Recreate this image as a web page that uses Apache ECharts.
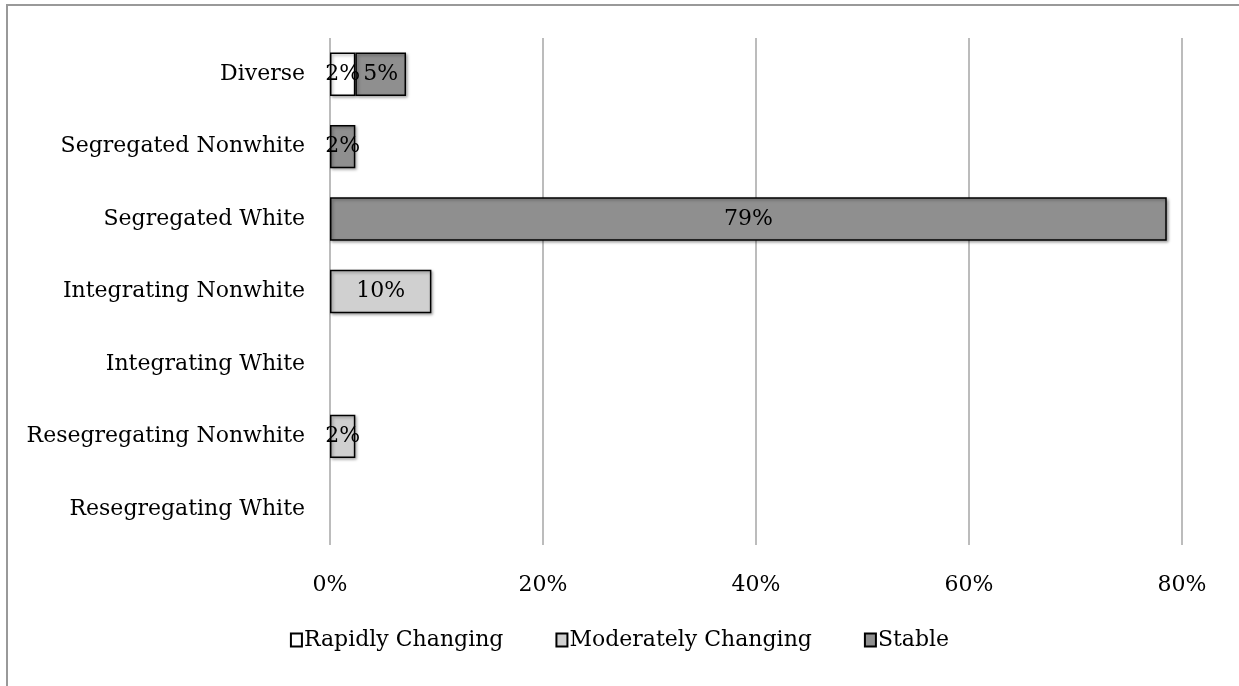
<!DOCTYPE html>
<html><head><meta charset="utf-8">
<script src="https://cdn.jsdelivr.net/npm/echarts@6/dist/echarts.min.js"></script>
<style>html,body{margin:0;padding:0;background:#fff}#c{width:1239px;height:686px}</style>
</head><body><div id="c"></div>
<script>
const categories = ["Diverse","Segregated Nonwhite","Segregated White","Integrating Nonwhite","Integrating White","Resegregating Nonwhite","Resegregating White"];
const rapidlyChanging = [2.38, 0, 0, 0, 0, 0, 0];
const moderatelyChanging = [0, 0, 0, 9.52, 0, 2.38, 0];
const stable = [4.76, 2.38, 78.57, 0, 0, 0, 0];
const xTicks = [0, 20, 40, 60, 80];

const FONT = "DejaVu Serif";
const FS = 22;
const chart = echarts.init(document.getElementById('c'), null, {renderer:'canvas'});
function mk(name, data, color){
  return {
    name, type:'bar', stack:'s', data: data.map(v => v === 0 ? null : v),
    barCategoryGap:'40%',
    itemStyle:{color, borderColor:'#000', borderWidth:1.5, shadowColor:'rgba(0,0,0,0.35)', shadowBlur:3, shadowOffsetX:1.5, shadowOffsetY:1.5},
    label:{show:true, position:'inside', formatter: p => Math.round(p.value) + '%', color:'#000', fontFamily:FONT, fontSize:FS},
    emphasis:{disabled:true}
  };
}
chart.setOption({
  animation:false,
  graphic:[{type:'rect', shape:{x:7, y:5, width:1300, height:800}, style:{fill:'none', stroke:'#999', lineWidth:2}, z:-10}],
  grid:{left:330, right:57, top:38, bottom:141, containLabel:false},
  legend:{bottom:30, left:'center', itemWidth:11, itemHeight:13, itemGap:52,
    textStyle:{fontFamily:FONT, fontSize:FS, color:'#000', padding:[0,0,0,-3]},
    data:[{name:'Rapidly Changing', icon:'rect'},{name:'Moderately Changing', icon:'rect'},{name:'Stable', icon:'rect'}]},
  xAxis:{type:'value', min:0, max:80, interval:20,
    axisLine:{show:false}, axisTick:{show:false},
    splitLine:{lineStyle:{color:'#a6a6a6', width:1.5}},
    axisLabel:{formatter: v => xTicks.includes(v) ? v + '%' : '', fontFamily:FONT, fontSize:FS, color:'#000', margin:29}},
  yAxis:{type:'category', inverse:true, data:categories,
    axisLine:{show:false}, axisTick:{show:false},
    axisLabel:{fontFamily:FONT, fontSize:FS, color:'#000', margin:25}},
  series:[
    mk('Rapidly Changing', rapidlyChanging, '#ffffff'),
    mk('Moderately Changing', moderatelyChanging, '#d0d0d0'),
    mk('Stable', stable, '#8f8f8f')
  ]
});
</script></body></html>
